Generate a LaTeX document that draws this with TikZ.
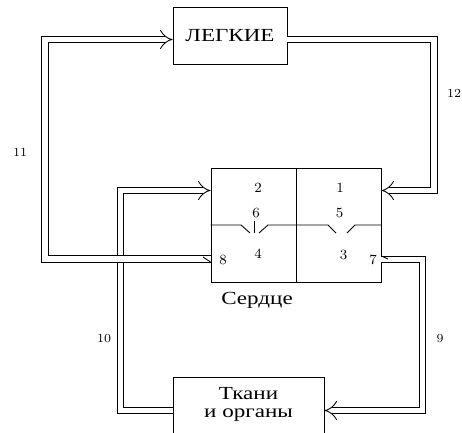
\documentclass[tikz,border=0pt]{standalone}
\usepackage{fontspec}
\newfontfamily\cyrfont[FakeStretch=1.25]{Liberation Serif}
\usetikzlibrary{calc,arrows.meta}
\begin{document}
\begin{tikzpicture}[x=0.02cm, y=-0.02cm, line width=0.5pt,
    organ/.style={draw, font=\cyrfont, inner sep=0pt},
    cyr/.style={font=\cyrfont\fontsize{10.5}{10}\selectfont, inner sep=0pt},
    vessel/.style={double, double distance=3.4pt, -Implies},
    num/.style={font=\footnotesize, inner sep=1pt},
    vnum/.style={font=\scriptsize, inner sep=1pt}]
    \useasboundingbox (0,0) rectangle (462,432);

    % Organs
    \node[organ, cyr, minimum width=2.28cm, minimum height=1.14cm] (lungs) at (230,35.5) {ЛЕГКИЕ};
    \node[organ, minimum width=3.4cm, minimum height=2.28cm] (heart) at (296,225) {};
    \node[organ, minimum width=3.02cm, minimum height=1.6cm, anchor=north] (tissues) at (248.5,377) {};
    \node[cyr, align=center] (tissuestext) at (248.5,404.5) {Ткани\\и органы};
    \node[cyr] (heartname) at (257,300) {Сердце};

    % Chambers and valves
    \draw (heart.north) -- (heart.south);
    \draw (heart.west) -- (241,225) -- (250,233);
    \draw (259,233) -- (268,225) -- (heart.center) -- (328,225) -- (336,233);
    \draw (347,233) -- (355,225) -- (heart.east);
    \draw (254,221) -- (254,233);

    % Vessels
    \draw[vessel] (tissues.west |- 0,410.5) -- (120.5,410.5) -- (120.5,190.5) -- (heart.west |- 0,190.5);
    \draw[vessel] (heart.west |- 0,259) -- (45,259) -- (45,39.5) -- (lungs.west |- 0,39.5);
    \draw[vessel] (lungs.east |- 0,39.5) -- (434,39.5) -- (434,190.5) -- (heart.east |- 0,190.5);
    \draw[vessel] (heart.east |- 0,259.5) -- (422.5,259.5) -- (422.5,410.5) -- (tissues.east |- 0,410.5);
    \draw (203,257) -- (heart.west |- 0,262);
    \draw (heart.east |- 0,256) -- (388,259);

    % Numbers
    \node[num] (c1) at (340,188) {1};
    \node[num] (c2) at (258,188) {2};
    \node[num] (c3) at (343.5,255) {3};
    \node[num] (c4) at (258,254) {4};
    \node[num] (c5) at (339.5,213) {5};
    \node[num] (c6) at (256,213) {6};
    \node[num] (c7) at (373,260) {7};
    \node[num] (c8) at (223,260) {8};
    \node[vnum] (v9) at (440,339) {9};
    \node[vnum] (v10) at (104,339) {10};
    \node[vnum] (v11) at (20,152) {11};
    \node[vnum] (v12) at (454,93) {12};
\end{tikzpicture}
\end{document}
